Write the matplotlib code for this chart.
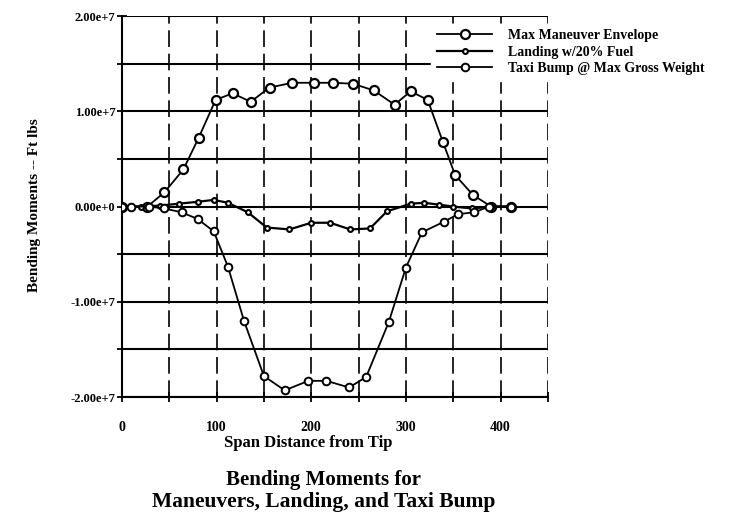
import matplotlib
matplotlib.use("Agg")
import matplotlib.pyplot as plt
from matplotlib.ticker import MultipleLocator, FuncFormatter

# span stations (from tip) and bending moments (ft lbs)
maneuver_x = [0, 27, 45, 65, 81, 99, 117, 136, 156, 180, 203, 223, 244, 266, 288, 305, 323, 339, 352, 371, 390, 411]
maneuver_y = [0, 0, 0.15e7, 0.39e7, 0.72e7, 1.12e7, 1.19e7, 1.10e7, 1.25e7, 1.30e7, 1.30e7, 1.30e7, 1.29e7,
              1.22e7, 1.07e7, 1.21e7, 1.12e7, 0.68e7, 0.33e7, 0.12e7, 0, 0]

landing_x = [0, 20, 40, 60, 80, 97, 112, 133, 153, 177, 200, 220, 241, 262, 280, 305, 319, 335, 350, 370, 390, 411]
landing_y = [0, 0, 0.01e7, 0.03e7, 0.05e7, 0.07e7, 0.04e7, -0.06e7, -0.22e7, -0.24e7, -0.17e7, -0.17e7,
             -0.24e7, -0.23e7, -0.05e7, 0.03e7, 0.04e7, 0.02e7, 0, -0.02e7, 0, 0]

taxi_x = [0, 10, 29, 45, 63, 80, 97, 112, 129, 150, 172, 197, 216, 240, 258, 282, 300, 317, 340, 355, 372, 388, 411]
taxi_y = [0, 0, 0, -0.02e7, -0.06e7, -0.13e7, -0.26e7, -0.63e7, -1.2e7, -1.78e7, -1.93e7, -1.83e7, -1.83e7,
          -1.9e7, -1.79e7, -1.21e7, -0.64e7, -0.27e7, -0.16e7, -0.08e7, -0.06e7, 0, 0]

labels = ["Max Maneuver Envelope", "Landing w/20% Fuel", "Taxi Bump @ Max Gross Weight"]
x_ticks = [0, 100, 200, 300, 400]
y_ticks = [-2e7, -1e7, 0, 1e7, 2e7]

plt.rcParams["font.family"] = ["Liberation Serif", "DejaVu Serif"]
plt.rcParams["font.weight"] = "bold"

fig = plt.figure(figsize=(7.43, 5.2), dpi=100)
ax = fig.add_axes([0.164, 0.2365, 0.5735, 0.7325])

# grid: solid horizontal lines, dashed vertical ones
for yv in range(-20, 21, 5):
    ax.axhline(yv * 1e6, color="black", lw=1.5, zorder=1)
for xv in range(50, 451, 50):
    ax.axvline(xv, color="black", lw=1.2, ls=(0, (10, 4)), zorder=1)

ax.plot(maneuver_x, maneuver_y, color="black", lw=1.3, marker="o", ms=6.5,
        mfc="white", mec="black", mew=1.6, label=labels[0], zorder=3)
ax.plot(landing_x, landing_y, color="black", lw=1.6, marker="o", ms=3.5,
        mfc="white", mec="black", mew=1.5, label=labels[1], zorder=3)
ax.plot(taxi_x, taxi_y, color="black", lw=1.3, marker="o", ms=5.5,
        mfc="white", mec="black", mew=1.4, label=labels[2], zorder=3)

ax.set_xlim(0, 450)
ax.set_ylim(-2e7, 2e7)
ax.set_xticks(x_ticks)
ax.set_yticks(y_ticks)
ax.xaxis.set_minor_locator(MultipleLocator(50))
ax.yaxis.set_minor_locator(MultipleLocator(5e6))
ax.yaxis.set_major_formatter(FuncFormatter(
    lambda v, p: "0.00e+0" if v == 0 else "%.2fe+7" % (v / 1e7)))
ax.tick_params(which="both", direction="inout", length=7, width=1.3, colors="black")
ax.tick_params(axis="y", labelsize=9, pad=1)
ax.tick_params(axis="x", labelsize=10, pad=14)
for s in ["top", "right"]:
    ax.spines[s].set_visible(False)
ax.spines["left"].set_linewidth(1.5)
ax.spines["bottom"].set_linewidth(1.5)

fig.text(0.047, 0.605, "Bending Moments -- Ft lbs", rotation=90, ha="center", va="center",
         fontsize=11, fontweight="bold")
fig.text(0.415, 0.148, "Span Distance from Tip", ha="center", va="center",
         fontsize=12, fontweight="bold")
fig.text(0.435, 0.077, "Bending Moments for", ha="center", va="center",
         fontsize=15, fontweight="bold")
fig.text(0.435, 0.034, "Maneuvers, Landing, and Taxi Bump", ha="center", va="center",
         fontsize=15.5, fontweight="bold")

leg = fig.legend(loc="upper left", bbox_to_anchor=(0.571, 0.968), fontsize=10, frameon=True,
                 handlelength=4, handletextpad=1.1, labelspacing=0.25, borderpad=0.4)
leg.get_frame().set_facecolor("white")
leg.get_frame().set_edgecolor("white")
leg.get_frame().set_alpha(1)

fig.savefig("out.png", dpi=100)
